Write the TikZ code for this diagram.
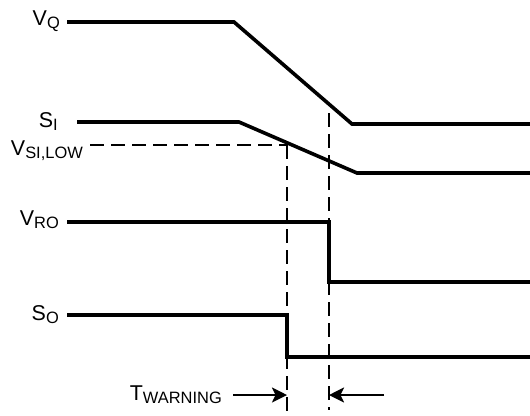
\documentclass[tikz,border=0pt]{standalone}
\usepackage{fontspec}
\setmainfont{Liberation Sans}
\usetikzlibrary{arrows.meta}
\newcommand\siglbl[2]{#1\raisebox{-3.5bp}{\fontsize{16.5}{18}\selectfont #2}}
\begin{document}
\begin{tikzpicture}[x=1bp,y=-1bp,
  lbl/.style={anchor=base east,inner sep=0pt,font=\fontsize{21.5}{26}\selectfont},
  sig/.style={line width=3.6bp,line join=miter},
  guide/.style={line width=2.3bp,dash pattern=on 14bp off 7bp},
  marker/.style={line width=2.3bp,-{Stealth[length=15bp,width=15bp,inset=3.5bp]}}]
\useasboundingbox (0,0) rectangle (530,415);
% labels
\node[lbl] (vq) at (60,25) {\siglbl{V}{Q}};
\node[lbl] (si) at (58,127) {\siglbl{S}{I}};
\node[lbl] (vsi) at (83,155) {\siglbl{V}{SI,LOW}};
\node[lbl] (vro) at (59,225) {\siglbl{V}{RO}};
\node[lbl] (so) at (59,320) {\siglbl{S}{O}};
\node[lbl] (tw) at (222,400) {\siglbl{T}{WARNING}};
% signals
\draw[sig] (67,22) -- (234,22) -- (352,124) -- (530,124);
\draw[sig] (77,122) -- (239,122) -- (357,173) -- (530,173);
\draw[sig] (67,222) -- (329,222) -- (329,282) -- (530,282);
\draw[sig] (67,315) -- (287,315) -- (287,357) -- (530,357);
% threshold and guides
\coordinate (th0) at (90,145);
\coordinate (d1t) at (287,145);
\coordinate (d1b) at (287,415);
\coordinate (d2t) at (329,113);
\coordinate (d2b) at (329,410);
\draw[guide] (th0) -- (d1t);
\draw[guide] (d1t) -- (d1b);
\draw[guide] (d2t) -- (d2b);
% warning time markers
\coordinate (a1s) at (233,395);
\coordinate (a1e) at (287,395);
\coordinate (a2s) at (384,395);
\coordinate (a2e) at (329,395);
\draw[marker] (a1s) -- (a1e);
\draw[marker] (a2s) -- (a2e);
\end{tikzpicture}
\end{document}
